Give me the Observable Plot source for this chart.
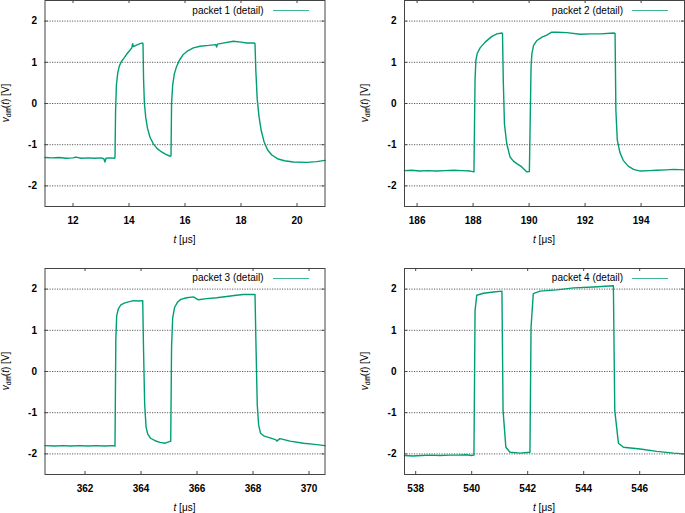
<!DOCTYPE html>
<html>
<head>
<meta charset="utf-8">
<script src="https://cdn.jsdelivr.net/npm/d3@7"></script>
<script src="https://cdn.jsdelivr.net/npm/@observablehq/plot@0.6"></script>
<style>
  body { margin: 0; background: #fff; }
  #wrap { position: relative; width: 685px; height: 513px; overflow: hidden; background: #fff; font-family: "Liberation Sans", Arial, sans-serif; }
  .cell { position: absolute; }
  .lbl { position: absolute; font-size: 10px; color: #000; white-space: nowrap; line-height: 1; }
  .ylab { transform: translate(-50%, -50%) rotate(-90deg); }
  .xlab { transform: translate(-50%, -50%); }
  .leg { position: absolute; font-size: 10px; color: #000; white-space: nowrap; line-height: 1; transform: translate(-100%, -50%); }
  .legline { position: absolute; height: 0; border-top: 1.5px solid #009e73; opacity: 0.75; }
  sub { font-size: 7px; vertical-align: -2px; }
</style>
</head>
<body>
<div id="wrap"></div>
<script>
// ---------- data ----------
const yTicks = [-2, -1, 0, 1, 2];

const p1Label = "packet 1 (detail)";
const p1Ticks = [12, 14, 16, 18, 20];
const p1Domain = [11, 21];
const p1T = [11.0, 11.25, 11.5, 11.75, 12.0, 12.1, 12.3, 12.55, 12.8, 13.0, 13.1, 13.14, 13.18, 13.3, 13.48, 13.5, 13.52, 13.55, 13.6, 13.66, 13.73, 13.82, 13.92, 14.02, 14.1, 14.13, 14.16, 14.25, 14.35, 14.48, 14.5, 14.52, 14.55, 14.6, 14.66, 14.75, 14.87, 15.0, 15.15, 15.3, 15.47, 15.5, 15.52, 15.56, 15.62, 15.7, 15.8, 15.94, 16.1, 16.3, 16.54, 16.85, 17.1, 17.13, 17.16, 17.4, 17.73, 18.0, 18.2, 18.48, 18.5, 18.53, 18.58, 18.64, 18.72, 18.82, 18.95, 19.1, 19.3, 19.55, 19.87, 20.35, 20.7, 21.0];
const p1V = [-1.31, -1.32, -1.31, -1.33, -1.32, -1.30, -1.33, -1.32, -1.33, -1.32, -1.34, -1.42, -1.33, -1.32, -1.33, -1.31, -0.2, 0.45, 0.75, 0.92, 1.02, 1.10, 1.20, 1.28, 1.35, 1.45, 1.38, 1.41, 1.44, 1.47, 1.45, 0.6, 0.0, -0.35, -0.6, -0.82, -0.98, -1.09, -1.17, -1.23, -1.28, -1.27, 0.0, 0.45, 0.72, 0.9, 1.05, 1.19, 1.28, 1.35, 1.39, 1.41, 1.43, 1.37, 1.44, 1.47, 1.51, 1.49, 1.47, 1.47, 1.45, 0.8, 0.1, -0.3, -0.65, -0.92, -1.13, -1.25, -1.34, -1.39, -1.42, -1.43, -1.41, -1.38];

const p2Label = "packet 2 (detail)";
const p2Ticks = [186, 188, 190, 192, 194];
const p2Domain = [185.55, 195.55];
const p2T = [185.55, 185.8, 186.1, 186.4, 186.7, 187.0, 187.3, 187.6, 187.9, 188.03, 188.07, 188.1, 188.15, 188.25, 188.43, 188.67, 188.85, 189.03, 189.05, 189.08, 189.12, 189.2, 189.32, 189.44, 189.56, 189.74, 189.92, 190.01, 190.07, 190.1, 190.16, 190.28, 190.46, 190.63, 190.81, 191.0, 191.35, 191.82, 192.2, 192.54, 193.04, 193.07, 193.1, 193.15, 193.24, 193.36, 193.54, 193.73, 193.97, 194.3, 194.56, 194.9, 195.16, 195.55];
const p2V = [-1.63, -1.62, -1.64, -1.63, -1.64, -1.63, -1.62, -1.63, -1.64, -1.66, 0.6, 1.05, 1.22, 1.35, 1.49, 1.63, 1.69, 1.71, 1.70, 0.5, -0.5, -0.97, -1.30, -1.40, -1.46, -1.54, -1.66, -1.65, 0.9, 1.21, 1.41, 1.53, 1.61, 1.66, 1.73, 1.73, 1.72, 1.68, 1.69, 1.69, 1.71, 1.70, -0.17, -0.89, -1.18, -1.38, -1.52, -1.60, -1.64, -1.63, -1.62, -1.61, -1.60, -1.61];

const p3Label = "packet 3 (detail)";
const p3Ticks = [362, 364, 366, 368, 370];
const p3Domain = [360.57, 370.57];
const p3T = [360.57, 360.9, 361.2, 361.5, 361.8, 362.1, 362.4, 362.7, 363.0, 363.07, 363.1, 363.13, 363.19, 363.28, 363.4, 363.55, 363.73, 363.9, 364.06, 364.09, 364.13, 364.18, 364.24, 364.34, 364.5, 364.68, 364.86, 365.06, 365.09, 365.13, 365.2, 365.3, 365.42, 365.63, 365.87, 366.05, 366.34, 366.7, 367.06, 367.4, 367.65, 368.07, 368.11, 368.15, 368.2, 368.27, 368.4, 368.61, 368.82, 368.85, 368.96, 369.32, 369.8, 370.2, 370.57];
const p3V = [-1.80, -1.81, -1.80, -1.81, -1.80, -1.81, -1.80, -1.81, -1.80, -1.81, 0.8, 1.35, 1.52, 1.62, 1.66, 1.69, 1.72, 1.71, 1.72, 0.5, -0.8, -1.35, -1.52, -1.62, -1.68, -1.72, -1.74, -1.69, 0.6, 1.3, 1.56, 1.68, 1.75, 1.79, 1.81, 1.74, 1.77, 1.79, 1.82, 1.85, 1.87, 1.87, 0.5, -0.8, -1.3, -1.5, -1.57, -1.61, -1.66, -1.69, -1.63, -1.69, -1.74, -1.77, -1.80];

const p4Label = "packet 4 (detail)";
const p4Ticks = [538, 540, 542, 544, 546];
const p4Domain = [537.6, 547.6];
const p4T = [537.6, 537.9, 538.2, 538.5, 538.87, 539.2, 539.5, 539.8, 540.0, 540.08, 540.12, 540.18, 540.42, 540.78, 541.08, 541.12, 541.22, 541.37, 541.73, 542.08, 542.12, 542.2, 542.44, 543.04, 543.64, 544.35, 545.06, 545.11, 545.24, 545.42, 546.02, 546.61, 547.21, 547.6];
const p4V = [-2.04, -2.05, -2.04, -2.03, -2.04, -2.03, -2.03, -2.02, -2.04, -2.03, 1.48, 1.85, 1.90, 1.93, 1.95, -0.95, -1.84, -1.96, -1.98, -1.96, 1.08, 1.89, 1.95, 1.98, 2.03, 2.05, 2.08, -0.95, -1.74, -1.84, -1.88, -1.94, -1.98, -2.00];

// ---------- drawing ----------
const wrap = document.getElementById("wrap");
const COLOR = "#009e73";

function panel(T, V, domain, xticks, label, cfg) {
  const data = T.map((t, i) => ({t, v: V[i]}));
  const plotW = cfg.width - cfg.marginLeft - cfg.marginRight;
  const plotH = cfg.height - cfg.marginTop - cfg.marginBottom;
  const tk = 3;
  const chart = Plot.plot({
    width: cfg.width, height: cfg.height,
    marginTop: cfg.marginTop, marginBottom: cfg.marginBottom,
    marginLeft: cfg.marginLeft, marginRight: cfg.marginRight,
    style: {fontFamily: "'Liberation Sans', Arial, sans-serif", fontSize: "10px", background: "transparent", color: "#000"},
    x: {domain},
    y: {domain: [-2.5, 2.5]},
    marks: [
      Plot.ruleY(yTicks, {y: d => d, stroke: "#000", strokeOpacity: 0.8, strokeWidth: 0.8, strokeDasharray: "1.2,1.3"}),
      Plot.tickX(xticks, {x: d => d, insetTop: plotH - tk, stroke: "#444"}),
      Plot.tickX(xticks, {x: d => d, insetBottom: plotH - tk, stroke: "#444"}),
      Plot.tickY(yTicks, {y: d => d, insetRight: plotW - tk, stroke: "#444"}),
      Plot.tickY(yTicks, {y: d => d, insetLeft: plotW - tk, stroke: "#444"}),
      Plot.line(data, {x: "t", y: "v", stroke: COLOR, strokeWidth: 1.4}),
      Plot.axisX(xticks, {tickSize: 0, tickPadding: 10, label: null, fontWeight: "bold", tickFormat: d => String(d)}),
      Plot.axisY(yTicks, {tickSize: 0, tickPadding: 8, label: null, fontWeight: "bold", tickFormat: d => String(d)}),
      Plot.frame({stroke: "#444", strokeWidth: 1})
    ]
  });
  const cell = document.createElement("div");
  cell.className = "cell";
  cell.style.left = cfg.left + "px";
  cell.style.top = cfg.top + "px";
  cell.appendChild(chart);
  wrap.appendChild(cell);

  const fx0 = cfg.left + cfg.marginLeft, fx1 = cfg.left + cfg.width - cfg.marginRight;
  const fy0 = cfg.top + cfg.marginTop, fy1 = cfg.top + cfg.height - cfg.marginBottom;

  const yl = document.createElement("div");
  yl.className = "lbl ylab";
  yl.innerHTML = "<i>v</i><sub>diff</sub>(<i>t</i>) [V]";
  yl.style.left = cfg.ylabX + "px";
  yl.style.top = ((fy0 + fy1) / 2) + "px";
  wrap.appendChild(yl);

  const xl = document.createElement("div");
  xl.className = "lbl xlab";
  xl.innerHTML = "<i>t</i> [\u03bcs]";
  xl.style.left = ((fx0 + fx1) / 2) + "px";
  xl.style.top = (fy1 + 34) + "px";
  wrap.appendChild(xl);

  const lg = document.createElement("div");
  lg.className = "leg";
  lg.textContent = label;
  lg.style.left = (fx1 - 61) + "px";
  lg.style.top = (fy0 + cfg.legDy) + "px";
  wrap.appendChild(lg);

  const ll = document.createElement("div");
  ll.className = "legline";
  ll.style.left = (fx1 - 52) + "px";
  ll.style.width = "36px";
  ll.style.top = (fy0 + cfg.legDy - 0.75) + "px";
  wrap.appendChild(ll);
}

const L = {left: 0, width: 343, marginLeft: 44.5, marginRight: 18.5, ylabX: 6};
const R = {left: 343, width: 342, marginLeft: 61, marginRight: 1, ylabX: 365};
const TOP = {top: 0, height: 256, marginTop: 0, marginBottom: 50, legDy: 10.7};
const BOT = {top: 268, height: 245, marginTop: 0, marginBottom: 39, legDy: 10.3};

panel(p1T, p1V, p1Domain, p1Ticks, p1Label, {...L, ...TOP});
panel(p2T, p2V, p2Domain, p2Ticks, p2Label, {...R, ...TOP});
panel(p3T, p3V, p3Domain, p3Ticks, p3Label, {...L, ...BOT});
panel(p4T, p4V, p4Domain, p4Ticks, p4Label, {...R, ...BOT});
</script>
</body>
</html>
